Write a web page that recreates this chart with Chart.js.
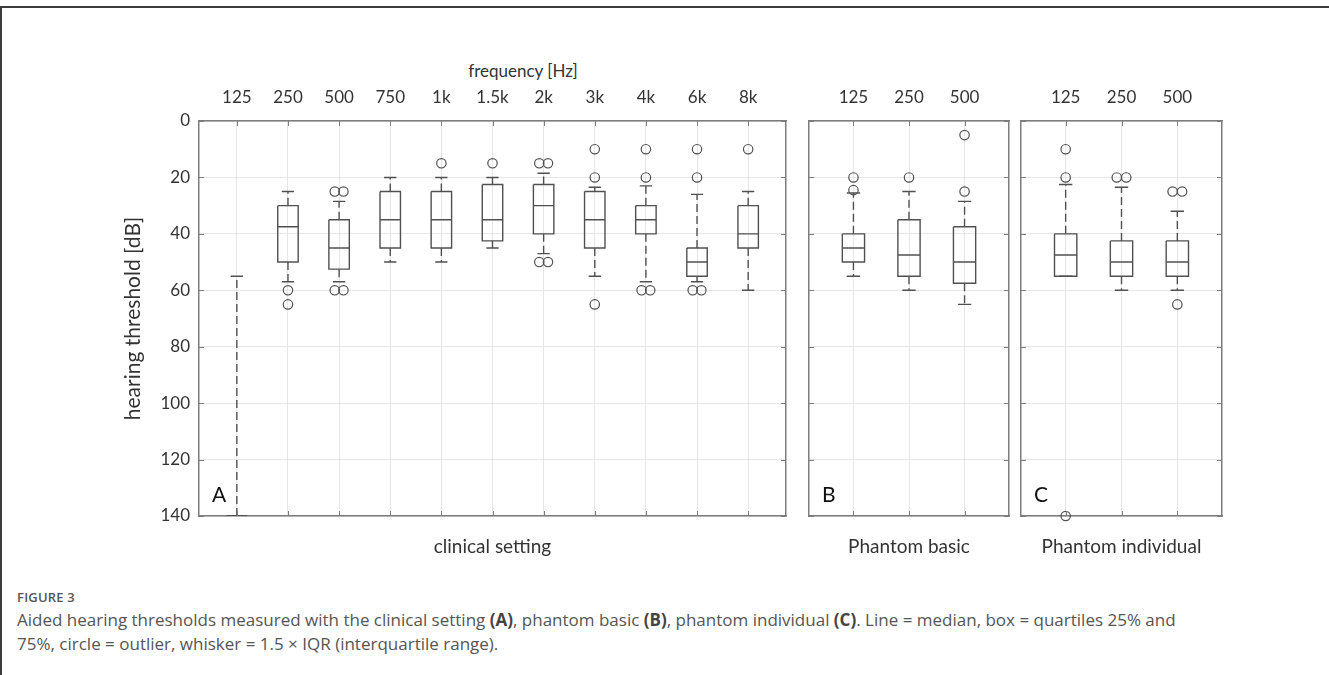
<!DOCTYPE html>
<html>
<head>
<meta charset="utf-8">
<script src="https://cdn.jsdelivr.net/npm/chart.js@4.4.1/dist/chart.umd.min.js"></script>
<style>
  html, body { margin: 0; padding: 0; background: #fff; }
  body { width: 1329px; height: 675px; position: relative; overflow: hidden; font-family: Lato, sans-serif; }
  .frame { position: absolute; left: 0; top: 6px; width: 1340px; height: 700px;
           border-top: 2px solid #3c3c3c; border-left: 2px solid #3c3c3c; }
  canvas { position: absolute; top: 40px; }
  #freq-title { position: absolute; left: 523px; top: 70px; transform: translate(-50%, -50%);
                font-size: 17px; color: #333; white-space: nowrap; }
  .fig-label { position: absolute; left: 17px; top: 588px; font-family: "Open Sans", sans-serif;
               font-size: 13px; font-weight: 600; color: #555; letter-spacing: 0.2px; }
  .caption { position: absolute; left: 17px; top: 608px; font-family: "Open Sans", sans-serif;
             font-size: 17px; line-height: 24px; color: #555; white-space: nowrap; }
  .caption b { color: #444; font-weight: 700; }
</style>
</head>
<body>
<div class="frame"></div>
<div id="freq-title">frequency [Hz]</div>
<canvas id="panelA" width="700" height="530" style="left:100px"></canvas>
<canvas id="panelB" width="215" height="530" style="left:800px"></canvas>
<canvas id="panelC" width="215" height="530" style="left:1015px"></canvas>
<div class="fig-label">FIGURE 3</div>
<div class="caption">Aided hearing thresholds measured with the clinical setting <b>(A)</b>, phantom basic <b>(B)</b>, phantom individual <b>(C)</b>. Line = median, box = quartiles 25% and<br>75%, circle = outlier, whisker = 1.5 × IQR (interquartile range).</div>

<script>
// A: clinical setting
const freqA = ['125', '250', '500', '750', '1k', '1.5k', '2k', '3k', '4k', '6k', '8k'];
const q1A = [140, 30, 35, 25, 25, 22.5, 22.5, 25, 30, 45, 30];
const medA = [140, 37.5, 45, 35, 35, 35, 30, 35, 35, 50, 40];
const q3A = [140, 50, 52.5, 45, 45, 42.5, 40, 45, 40, 55, 45];
const whiskTopA = [55, 25, 28.5, 20, 20, 20, 18.5, 23.5, 23, 26, 25];
const whiskBotA = [140, 57, 57, 50, 50, 45, 47, 55, 57, 57, 60];
const outliersA = [[], [60, 65], [25, 25, 60, 60], [], [15], [15], [15, 15, 50, 50],
                   [10, 20, 65], [10, 20, 60, 60], [10, 20, 60, 60], [10]];

// B: phantom basic
const freqB = ['125', '250', '500'];
const q1B = [40, 35, 37.5];
const medB = [45, 47.5, 50];
const q3B = [50, 55, 57.5];
const whiskTopB = [25.5, 25, 28.5];
const whiskBotB = [55, 60, 65];
const outliersB = [[20, 24.5], [20], [5, 25]];

// C: phantom individual
const freqC = ['125', '250', '500'];
const q1C = [40, 42.5, 42.5];
const medC = [47.5, 50, 50];
const q3C = [55, 55, 55];
const whiskTopC = [22.5, 23.5, 32];
const whiskBotC = [55, 60, 60];
const outliersC = [[10, 20, 140], [20, 20], [25, 25, 65]];

const dbTicks = [0, 20, 40, 60, 80, 100, 120, 140];

const LINE = '#505050';
const GRID = '#e6e6e6';
const FRAME = '#7d7d7d';
const TEXT = '#333';
const BOX_HALF = 0.2;
const CAP_HALF = 0.12;
const DUP_STEP = 0.17;

Chart.defaults.font.family = 'Lato, sans-serif';
Chart.defaults.color = TEXT;

function buildDatasets(q1, med, q3, wTop, wBot, outl) {
  const gap = x => ({ x, y: null });
  const boxes = [], medians = [], whiskers = [], caps = [], points = [];
  q1.forEach((lo, k) => {
    const x = k + 1, hi = q3[k];
    boxes.push({ x: x - BOX_HALF, y: lo }, { x: x + BOX_HALF, y: lo }, { x: x + BOX_HALF, y: hi },
               { x: x - BOX_HALF, y: hi }, { x: x - BOX_HALF, y: lo }, gap(x));
    medians.push({ x: x - BOX_HALF, y: med[k] }, { x: x + BOX_HALF, y: med[k] }, gap(x));
    whiskers.push({ x, y: lo }, { x, y: wTop[k] }, gap(x), { x, y: hi }, { x, y: wBot[k] }, gap(x));
    caps.push({ x: x - CAP_HALF, y: wTop[k] }, { x: x + CAP_HALF, y: wTop[k] }, gap(x),
              { x: x - CAP_HALF, y: wBot[k] }, { x: x + CAP_HALF, y: wBot[k] }, gap(x));
    // equal outliers are put side by side
    const count = {}, used = {};
    outl[k].forEach(v => { count[v] = (count[v] || 0) + 1; });
    outl[k].forEach(v => {
      const j = used[v] = (used[v] === undefined ? 0 : used[v] + 1);
      points.push({ x: x + (j - (count[v] - 1) / 2) * DUP_STEP, y: v });
    });
  });
  const seg = (data, extra) => Object.assign({
    data, showLine: true, spanGaps: false, pointRadius: 0, borderColor: LINE,
    borderWidth: 1.4, tension: 0
  }, extra);
  return [
    seg(whiskers, { borderDash: [8, 4] }),
    seg(caps),
    seg(boxes),
    seg(medians),
    { data: points, showLine: false, pointStyle: 'circle', pointRadius: 4.7,
      pointBackgroundColor: 'rgba(0,0,0,0)', pointBorderColor: LINE, pointBorderWidth: 1.2, clip: false }
  ];
}

// short inner tick marks and the panel letter
const panelMarks = {
  id: 'panelMarks',
  afterDraw(chart, args, opts) {
    const { ctx, chartArea: a, scales } = chart;
    ctx.save();
    ctx.strokeStyle = FRAME;
    ctx.lineWidth = 1;
    ctx.beginPath();
    scales.y.ticks.forEach(t => {
      const py = Math.round(scales.y.getPixelForValue(t.value)) + 0.5;
      ctx.moveTo(a.left, py); ctx.lineTo(a.left + 5, py);
      ctx.moveTo(a.right - 5, py); ctx.lineTo(a.right, py);
    });
    scales.x.ticks.forEach(t => {
      const px = Math.round(scales.x.getPixelForValue(t.value)) + 0.5;
      ctx.moveTo(px, a.top); ctx.lineTo(px, a.top + 5);
      ctx.moveTo(px, a.bottom - 5); ctx.lineTo(px, a.bottom);
    });
    ctx.stroke();
    ctx.fillStyle = '#111';
    ctx.font = '21px Lato, sans-serif';
    ctx.textBaseline = 'alphabetic';
    ctx.fillText(opts.letter, a.left + 13, a.bottom - 14);
    ctx.restore();
  }
};

function makePanel(id, p) {
  const n = p.labels.length;
  const edge = { display: true, color: FRAME, width: 1.5 };
  new Chart(document.getElementById(id), {
    type: 'scatter',
    data: { datasets: buildDatasets(p.q1, p.med, p.q3, p.wTop, p.wBot, p.outliers) },
    plugins: [panelMarks],
    options: {
      responsive: false,
      animation: false,
      devicePixelRatio: 1,
      layout: { padding: 0 },
      plugins: { legend: { display: false }, tooltip: { enabled: false }, panelMarks: { letter: p.letter } },
      scales: {
        x: {
          type: 'linear', position: 'top', min: p.xMin, max: n + 1 - p.xMin,
          afterBuildTicks: s => { s.ticks = p.labels.map((_, i) => ({ value: i + 1 })); },
          afterFit: s => { s.height = 81; },
          ticks: { autoSkip: false, maxRotation: 0, padding: 13, font: { size: 17 },
                   callback: v => p.labels[v - 1] },
          grid: { color: GRID, drawTicks: false },
          border: edge
        },
        x2: {
          type: 'linear', position: 'bottom', min: p.xMin, max: n + 1 - p.xMin,
          afterFit: s => { s.height = 54; },
          ticks: { display: false },
          grid: { display: false },
          border: edge,
          title: { display: true, text: p.title, font: { size: 19 }, padding: { top: 0, bottom: 12 } }
        },
        y: {
          type: 'linear', position: 'left', reverse: true, min: 0, max: 140,
          afterBuildTicks: s => { s.ticks = dbTicks.map(v => ({ value: v })); },
          afterFit: s => { s.width = p.leftW; },
          ticks: { display: p.showY, padding: 9, font: { size: 17 } },
          grid: { color: GRID, drawTicks: false },
          border: edge,
          title: { display: p.showY, text: 'hearing threshold [dB]', font: { size: 21 },
                   padding: { top: 21, bottom: 0 } }
        },
        y2: {
          type: 'linear', position: 'right', min: 0, max: 140,
          afterFit: s => { s.width = p.rightW; },
          ticks: { display: false },
          grid: { display: false },
          border: edge
        }
      }
    }
  });
}

makePanel('panelA', { labels: freqA, q1: q1A, med: medA, q3: q3A, wTop: whiskTopA, wBot: whiskBotA,
  outliers: outliersA, letter: 'A', title: 'clinical setting', xMin: 0.26, leftW: 99, rightW: 14, showY: true });
makePanel('panelB', { labels: freqB, q1: q1B, med: medB, q3: q3B, wTop: whiskTopB, wBot: whiskBotB,
  outliers: outliersB, letter: 'B', title: 'Phantom basic', xMin: 0.2, leftW: 9, rightW: 6, showY: false });
makePanel('panelC', { labels: freqC, q1: q1C, med: medC, q3: q3C, wTop: whiskTopC, wBot: whiskBotC,
  outliers: outliersC, letter: 'C', title: 'Phantom individual', xMin: 0.2, leftW: 6, rightW: 8, showY: false });
</script>
</body>
</html>
